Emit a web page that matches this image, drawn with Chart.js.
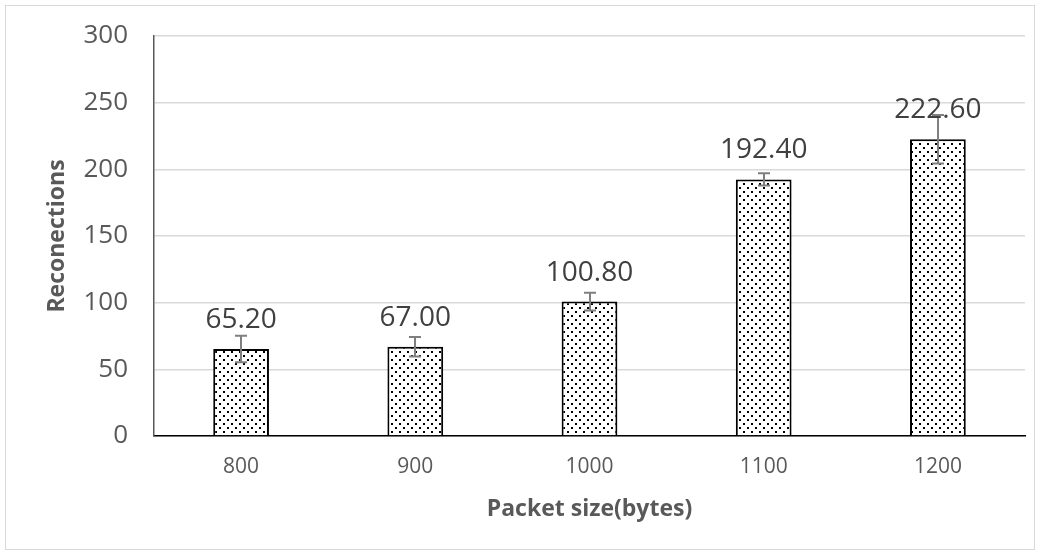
<!DOCTYPE html>
<html>
<head>
<meta charset="utf-8">
<script src="https://cdn.jsdelivr.net/npm/chart.js@4"></script>
<style>
  html, body { margin: 0; padding: 0; background: #fff; }
  #box {
    position: absolute; left: 5px; top: 5px;
    width: 1030px; height: 545px;
    box-sizing: border-box; border: 1px solid #d9d9d9;
  }
  #chart { display: block; }
</style>
</head>
<body>
<div id="box"><canvas id="chart" width="1028" height="543"></canvas></div>
<script>
const packetSizes = ["800", "900", "1000", "1100", "1200"];
const reconnections = [65.2, 67.0, 100.8, 192.4, 222.6];
const errors = [9.9, 7.3, 6.6, 4.6, 18.2];

// dotted fill like the excel pattern
function dotPattern() {
  const c = document.createElement("canvas");
  c.width = 8;
  c.height = 8;
  const g = c.getContext("2d");
  g.fillStyle = "#fff";
  g.fillRect(0, 0, 8, 8);
  g.fillStyle = "#000";
  g.fillRect(1, 1, 2, 2);
  g.fillRect(5, 5, 2, 2);
  return g.createPattern(c, "repeat");
}

const errorBars = {
  id: "errorBars",
  afterDatasetsDraw(chart) {
    const ctx = chart.ctx;
    const y = chart.scales.y;
    const meta = chart.getDatasetMeta(0);
    ctx.save();
    ctx.strokeStyle = "#7f7f7f";
    ctx.lineWidth = 2;
    meta.data.forEach((bar, i) => {
      const v = reconnections[i];
      const top = y.getPixelForValue(v + errors[i]);
      const bot = y.getPixelForValue(v - errors[i]);
      const x = Math.round(bar.x);
      ctx.beginPath();
      ctx.moveTo(x, top);
      ctx.lineTo(x, bot);
      ctx.moveTo(x - 6, top);
      ctx.lineTo(x + 6, top);
      ctx.moveTo(x - 6, bot);
      ctx.lineTo(x + 6, bot);
      ctx.stroke();
    });
    // value labels
    ctx.fillStyle = "#404040";
    ctx.font = "28px 'Open Sans'";
    ctx.textAlign = "center";
    ctx.textBaseline = "middle";
    meta.data.forEach((bar, i) => {
      ctx.fillText(reconnections[i].toFixed(2), bar.x, bar.y - 29);
    });
    ctx.restore();
  }
};

new Chart(document.getElementById("chart"), {
  type: "bar",
  data: {
    labels: packetSizes,
    datasets: [{
      data: reconnections,
      backgroundColor: dotPattern(),
      borderColor: "#000",
      borderWidth: 2,
      barPercentage: 0.32,
      categoryPercentage: 1.0
    }]
  },
  options: {
    responsive: false,
    animation: false,
    layout: { padding: { left: 0, right: 9, top: 30, bottom: 0 } },
    plugins: {
      legend: { display: false },
      tooltip: { enabled: false }
    },
    scales: {
      x: {
        grid: { display: false, drawTicks: false },
        border: { color: "#000", width: 1.5 },
        ticks: { color: "#595959", font: { family: "Open Sans", size: 21 }, padding: 18 },
        title: {
          display: true,
          text: "Packet size(bytes)",
          color: "#595959",
          font: { family: "Open Sans", size: 23, weight: "bold" },
          padding: { top: 4, bottom: 26 }
        },
        afterFit(scale) {
          scale.height = 113;
          scale.paddingLeft = 0;
          scale.paddingRight = 0;
        }
      },
      y: {
        min: 0,
        max: 300,
        ticks: { stepSize: 50, color: "#595959", font: { family: "Open Sans", size: 26 }, padding: 26 },
        grid: { color: "#d9d9d9", lineWidth: 1.5, drawTicks: false },
        border: { color: "#595959", width: 1.5 },
        title: {
          display: true,
          text: "Reconections",
          color: "#595959",
          font: { family: "Open Sans", size: 23, weight: "bold" },
          padding: { top: 38, bottom: 0 }
        },
        afterFit(scale) {
          scale.width = 148;
          scale.paddingTop = 0;
          scale.paddingBottom = 0;
        }
      }
    }
  },
  plugins: [errorBars]
});
</script>
</body>
</html>
